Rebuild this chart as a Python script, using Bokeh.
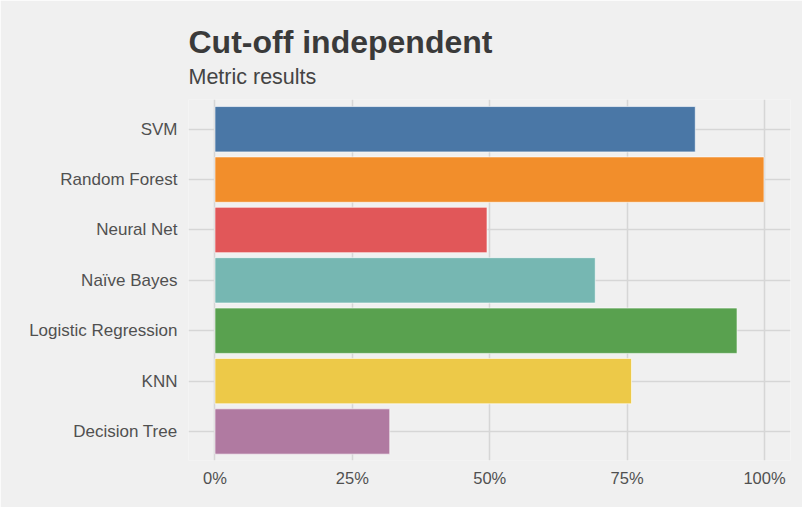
from bokeh.plotting import figure
from bokeh.models import Range1d, FixedTicker, Title, ColumnDataSource
from bokeh.embed import file_html
from bokeh.resources import INLINE

models = ["SVM", "Random Forest", "Neural Net", "Naïve Bayes",
          "Logistic Regression", "KNN", "Decision Tree"]
scores = [87.4, 99.9, 49.5, 69.2, 95.0, 75.8, 31.8]
colors = ["#4a77a6", "#f28e2b", "#e15759", "#76b7b2", "#59a14f", "#edc948", "#b07aa1"]
x_ticks = [0, 25, 50, 75, 100]
x_tick_labels = ["0%", "25%", "50%", "75%", "100%"]
title_text = "Cut-off independent"
subtitle_text = "Metric results"

n = len(models)
pos = [n - 1 - i for i in range(n)]
src = ColumnDataSource(dict(model=models, score=scores, color=colors, pos=pos))

BG = "#f0f0f0"
FONT = "Liberation Sans"

p = figure(width=802, height=507, output_backend="svg", toolbar_location=None,
           x_range=Range1d(-4.82, 104.73), y_range=Range1d(-0.576, 6.59),
           min_border_left=188, min_border_right=12, min_border_bottom=47,
           min_border_top=99)

p.hbar(y="pos", right="score", left=0, height=0.9, fill_color="color",
       line_color="white", line_alpha=0.6, line_width=1, source=src)

p.background_fill_color = BG
p.border_fill_color = BG
p.outline_line_color = None

for ax in (p.xaxis[0], p.yaxis[0]):
    ax.axis_line_color = None
    ax.major_tick_line_color = None
    ax.minor_tick_line_color = None
    ax.major_tick_out = 0
    ax.major_label_text_font = FONT
    ax.major_label_text_color = "#505050"

p.yaxis.ticker = FixedTicker(ticks=pos)
p.yaxis.major_label_overrides = {pv: m for pv, m in zip(pos, models)}
p.yaxis.major_label_text_font_size = "17px"
p.yaxis.major_label_standoff = 11

p.xaxis.ticker = FixedTicker(ticks=x_ticks)
p.xaxis.major_label_overrides = {t: l for t, l in zip(x_ticks, x_tick_labels)}
p.xaxis.major_label_text_font_size = "16.5px"
p.xaxis.major_label_standoff = 8

p.xgrid.grid_line_color = "#d6d6d6"
p.ygrid.grid_line_color = "#d6d6d6"
p.xgrid.grid_line_width = 1.5
p.ygrid.grid_line_width = 1.5

p.add_layout(Title(text=subtitle_text, text_font=FONT, text_font_size="21.5px",
                   text_font_style="normal", text_color="#444444", align="left",
                   standoff=22, text_line_height=0.9), "above")
p.add_layout(Title(text=title_text, text_font=FONT, text_font_size="32px",
                   text_font_style="bold", text_color="#3a3a3a", align="left",
                   standoff=-16, text_line_height=0.9), "above")

open("out.html", "w").write(file_html(p, INLINE))
